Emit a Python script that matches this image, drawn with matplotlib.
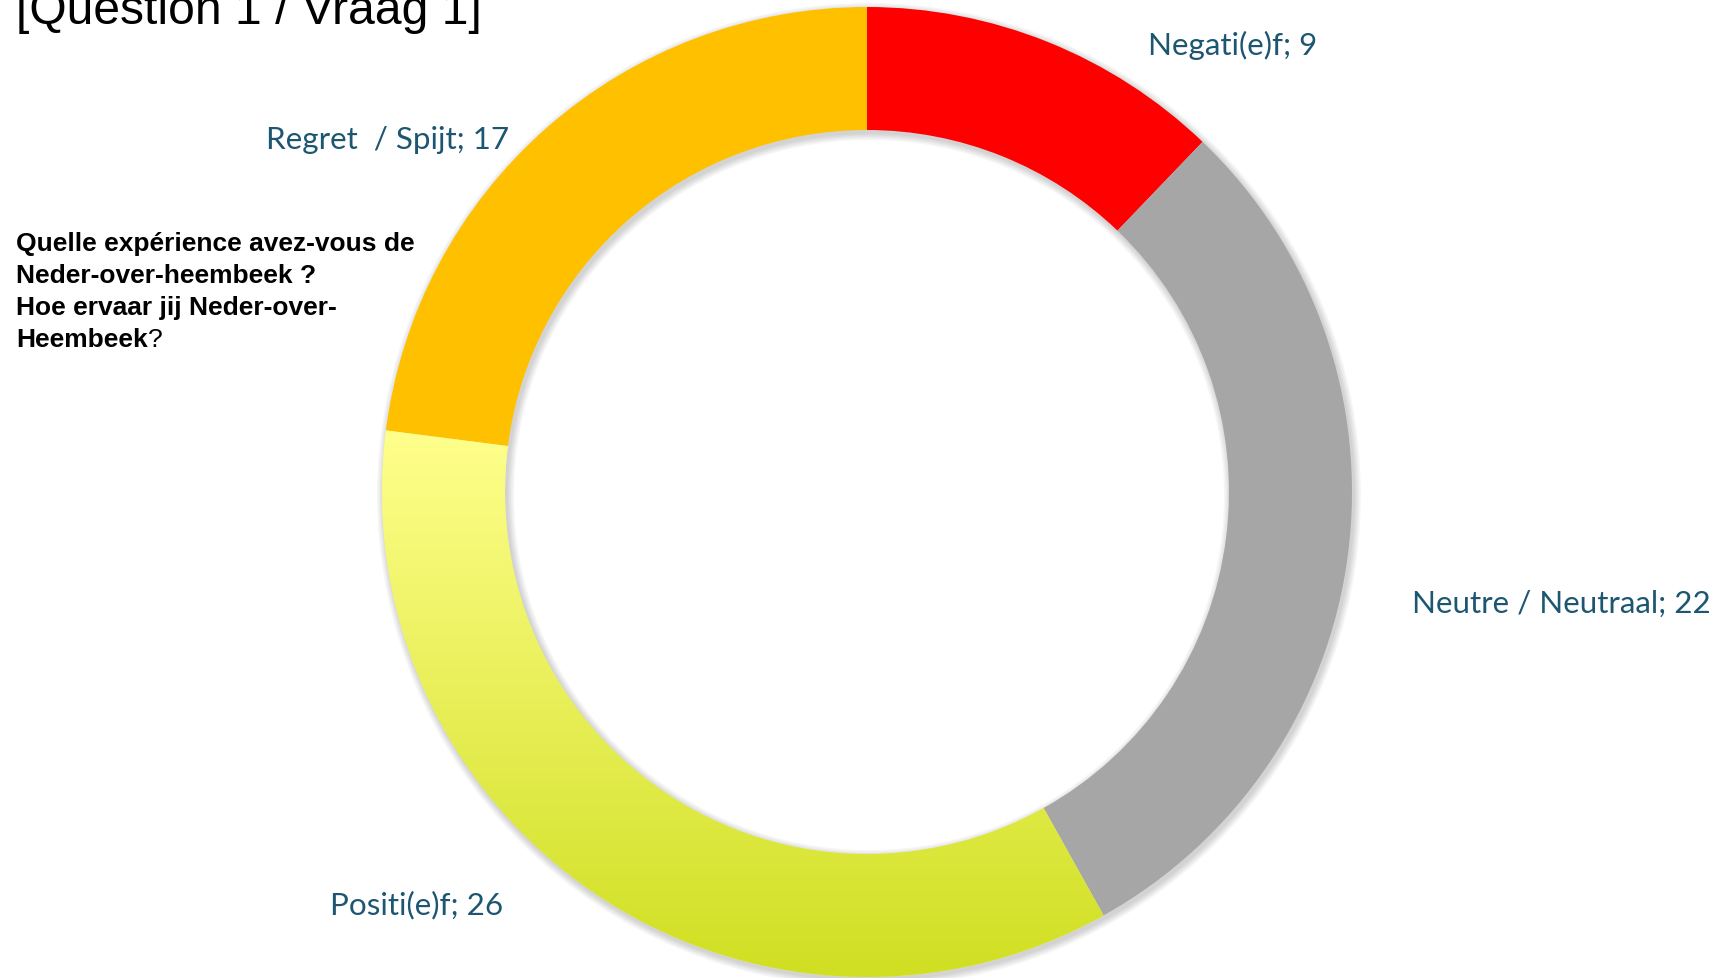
"""Donut chart: experience of Neder-over-Heembeek (Question 1 / Vraag 1)."""

import matplotlib
matplotlib.use("Agg")
import matplotlib.pyplot as plt
import numpy as np
from matplotlib.colors import LinearSegmentedColormap

W, H = 1731, 979

# ── Data ────────────────────────────────────────────────────────────────
categories = ["Negati(e)f", "Neutre / Neutraal", "Positi(e)f", "Regret  / Spijt"]
values = [9, 22, 26, 17]
slice_colors = ["#FF0000", "#A6A6A6", "#F2F27A", "#FFC000"]

title = "[Question 1 / Vraag 1]"
question_lines = ["Quelle expérience avez-vous de",
                  "Neder-over-heembeek ?",
                  "Hoe ervaar jij Neder-over-",
                  "Heembeek"]

# label anchors (left x, baseline y from top, in pixels)
label_pos = [(1148, 55), (1412, 613), (330, 914), (266, 149)]

LABEL_COLOR = "#1D5670"


def ypx(y):
    """Convert top-down pixel y into axes (bottom-up) y."""
    return H - y


fig = plt.figure(figsize=(W / 100, H / 100), dpi=100)
ax = fig.add_axes([0, 0, 1, 1])

cx, cy = 867, ypx(493)
R_OUT, R_IN = 485, 362

# soft shadow under the ring
for k in range(5):
    ax.pie([sum(values)], radius=R_OUT + 1 + k * 1.5, center=(cx + 2, cy - 3),
           colors=["#000000"], startangle=90,
           wedgeprops=dict(width=R_OUT - R_IN + 2 + k * 3, alpha=0.035,
                           linewidth=0))

wedges, _ = ax.pie(values, radius=R_OUT, center=(cx, cy), startangle=90,
                   counterclock=False, colors=slice_colors,
                   wedgeprops=dict(width=R_OUT - R_IN, linewidth=0))

# vertical gradient on the "Positif" slice
pos = wedges[2]
ext = pos.get_path().get_extents()
grad_cmap = LinearSegmentedColormap.from_list("pos", ["#D0DF22", "#FFFF8C"])
grad = np.linspace(0, 1, 256).reshape(-1, 1)
im = ax.imshow(grad, extent=[ext.x0, ext.x1, ext.y0, ext.y1], origin="lower",
               cmap=grad_cmap, aspect="auto", zorder=pos.get_zorder() + 0.1,
               interpolation="bilinear")
im.set_clip_path(pos)

# data labels
for name, val, (lx, ly) in zip(categories, values, label_pos):
    ax.text(lx, ypx(ly), f"{name}; {val}", ha="left", va="baseline",
            fontsize=22.6, family="Lato", color=LABEL_COLOR)

# title (partly cut off at top of the slide)
ax.text(16, ypx(24), title, ha="left", va="baseline", fontsize=34.6,
        family="Liberation Sans", color="black")

# question text
for i, line in enumerate(question_lines):
    t = ax.text(16, ypx(251 + i * 32), line, ha="left", va="baseline",
                fontsize=19, family="Liberation Sans", fontweight="bold",
                color="black")
ax.annotate("?", xy=(1, 0), xycoords=t, ha="left", va="bottom",
            fontsize=19, family="Liberation Sans", color="black")

ax.set_xlim(0, W)
ax.set_ylim(0, H)
ax.set_aspect("auto")
ax.axis("off")

fig.savefig("out.png", dpi=100)
plt.close(fig)
